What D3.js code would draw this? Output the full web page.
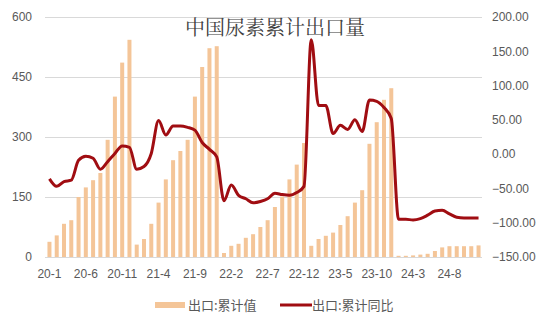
<!DOCTYPE html>
<html>
<head>
<meta charset="utf-8">
<script src="https://cdn.jsdelivr.net/npm/d3@7"></script>
<style>
  body { margin: 0; background: #fff; }
  text { font-family: 'Liberation Sans', 'Noto Sans CJK SC', sans-serif; }
</style>
</head>
<body>
<svg id="chart" width="550" height="328"></svg>
<script>
// categories: monthly 2020-01 .. 2024-12
let years = ['20', '21', '22', '23', '24'];
let months = d3.range(1, 13);
let categories = [];
years.forEach((y) => months.forEach((m) => categories.push(y + '-' + m)));

let tickLabels = ['20-1', '20-6', '20-11', '21-4', '21-9', '22-2', '22-7', '22-12', '23-5', '23-10', '24-3', '24-8'];

// 出口:累计值 (万吨)
let cumValue = [
  38, 54, 83, 92, 150, 174, 192, 210, 293, 401, 486, 543,
  31, 45, 83, 136, 194, 242, 265, 293, 401, 475, 522, 527,
  10, 28, 33, 48, 57, 75, 92, 125, 151, 194, 231, 285,
  28, 45, 53, 61, 80, 102, 136, 167, 283, 337, 393, 422,
  3, 3, 4, 6, 8, 15, 24, 27, 27, 27, 27, 29
];

// 出口:累计同比 (%)
let cumYoy = [
  -36, -47, -40, -38, -9, -3, -6, -22, -11, 1, 12, 10,
  -22, -18, 1, 49, 28, 41, 41, 39, 35, 17, 7, -4,
  -68, -45, -60, -65, -71, -69, -65, -57, -59, -60, -56, -47,
  167, 71, 71, 30, 42, 36, 50, 33, 79, 77, 68, 52,
  -95, -95, -96, -94, -89, -83, -82, -87, -92, -93, -93, -93
];

let leftTicks = [0, 150, 300, 450, 600];
let rightTicks = [-150, -100, -50, 0, 50, 100, 150, 200];

let barColor = '#f4c598';
let lineColor = '#a00d12';

let svg = d3.select('#chart');

let x = d3.scaleBand().domain(categories).range([46, 482]).paddingInner(0.45).paddingOuter(0.2);
let yL = d3.scaleLinear().domain([0, 600]).range([257, 17]);
let yR = d3.scaleLinear().domain([-150, 200]).range([257, 17]);

// gridlines
svg.append('g')
  .selectAll('line')
  .data(leftTicks)
  .enter()
  .append('line')
  .attr('x1', 45)
  .attr('x2', 482)
  .attr('y1', (d) => Math.round(yL(d)) + 0.5)
  .attr('y2', (d) => Math.round(yL(d)) + 0.5)
  .attr('stroke', '#d9d9d9')
  .attr('stroke-width', 1);

// left axis
let leftAxis = d3.axisLeft(yL).tickValues(leftTicks).tickSize(0).tickPadding(0);
svg.append('g')
  .attr('transform', 'translate(32,0)')
  .call(leftAxis)
  .call((g) => g.select('.domain').remove())
  .selectAll('text')
  .attr('font-size', 12)
  .attr('fill', '#595959');

// right axis
let rightAxis = d3.axisRight(yR).tickValues(rightTicks).tickSize(0).tickPadding(0).tickFormat(d3.format('.2f'));
svg.append('g')
  .attr('transform', 'translate(492,0)')
  .call(rightAxis)
  .call((g) => g.select('.domain').remove())
  .selectAll('text')
  .attr('font-size', 12)
  .attr('fill', '#595959');

// bars
svg.append('g')
  .selectAll('rect')
  .data(cumValue)
  .enter()
  .append('rect')
  .attr('x', (d, i) => x(categories[i]))
  .attr('width', x.bandwidth())
  .attr('y', (d) => yL(d))
  .attr('height', (d) => yL(0) - yL(d))
  .attr('fill', barColor);

// yoy line
let line = d3.line()
  .x((d, i) => x(categories[i]) + x.bandwidth() / 2)
  .y((d) => yR(d))
  .curve(d3.curveMonotoneX);

svg.append('path')
  .datum(cumYoy)
  .attr('d', line)
  .attr('fill', 'none')
  .attr('stroke', lineColor)
  .attr('stroke-width', 3)
  .attr('stroke-linejoin', 'round');

// x axis labels
let xAxis = d3.axisBottom(x).tickValues(tickLabels).tickSize(0).tickPadding(0);
svg.append('g')
  .attr('transform', 'translate(0,269)')
  .call(xAxis)
  .call((g) => g.select('.domain').remove())
  .selectAll('text')
  .attr('font-size', 12)
  .attr('fill', '#595959');

// title
svg.append('text')
  .attr('x', 275)
  .attr('y', 35)
  .attr('text-anchor', 'middle')
  .attr('font-size', 20)
  .attr('fill', '#404040')
  .style('font-family', "'Noto Serif CJK SC', 'Noto Sans CJK SC', serif")
  .text('中国尿素累计出口量');

// legend
let legend = svg.append('g').attr('font-size', 13).attr('fill', '#595959');
legend.append('rect')
  .attr('x', 155).attr('y', 302).attr('width', 30).attr('height', 6)
  .attr('fill', barColor);
legend.append('text')
  .attr('x', 188).attr('y', 310)
  .style('font-family', "'Noto Sans CJK SC', sans-serif")
  .attr('fill', '#595959')
  .text('出口:累计值');
legend.append('line')
  .attr('x1', 280).attr('x2', 312).attr('y1', 305).attr('y2', 305)
  .attr('stroke', lineColor).attr('stroke-width', 3);
legend.append('text')
  .attr('x', 312).attr('y', 310)
  .style('font-family', "'Noto Sans CJK SC', sans-serif")
  .attr('fill', '#595959')
  .text('出口:累计同比');
</script>
</body>
</html>
